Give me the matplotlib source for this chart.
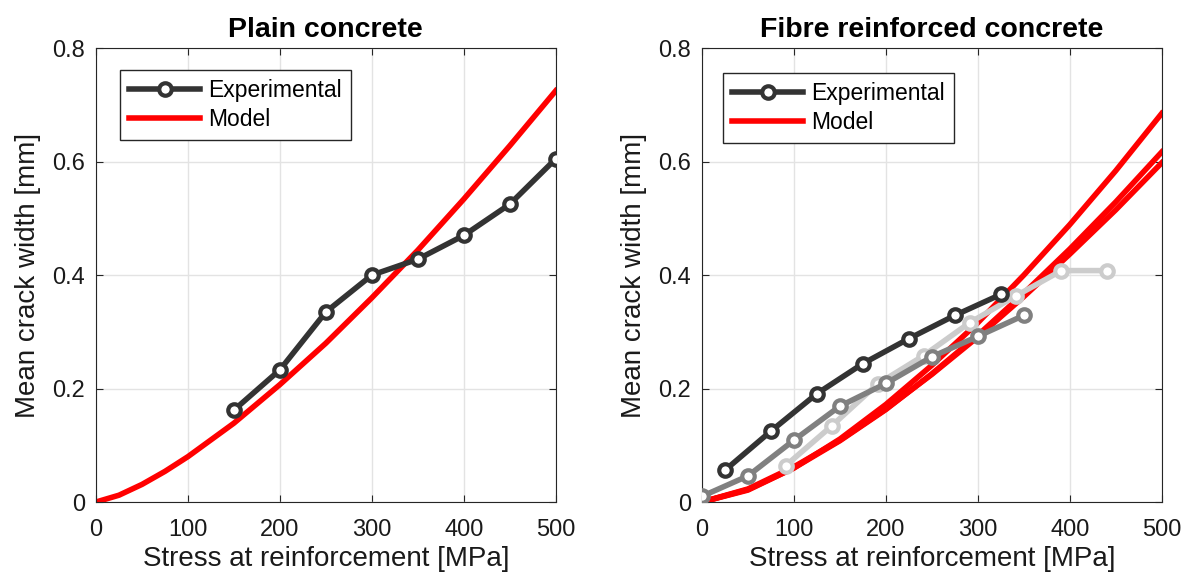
import numpy as np
import matplotlib
import matplotlib.pyplot as plt

# plain concrete
plain_stress = [150, 200, 250, 300, 350, 400, 450, 500]
plain_width = [0.162, 0.233, 0.335, 0.400, 0.428, 0.470, 0.525, 0.605]
plain_model_stress = [0, 25, 50, 75, 100, 150, 200, 250, 300, 350, 400, 450, 500]
plain_model_width = [0.0, 0.012, 0.031, 0.054, 0.080, 0.139, 0.207, 0.280, 0.360, 0.444, 0.534, 0.628, 0.725]

# fibre reinforced concrete, three test series
frc1_stress = [25, 75, 125, 175, 225, 275, 325]
frc1_width = [0.056, 0.125, 0.191, 0.244, 0.288, 0.329, 0.366]
frc2_stress = [0, 50, 100, 150, 200, 250, 300, 350]
frc2_width = [0.010, 0.046, 0.109, 0.169, 0.209, 0.256, 0.292, 0.329]
frc3_stress = [91, 141, 191, 241, 291, 341, 391, 441]
frc3_width = [0.064, 0.134, 0.208, 0.258, 0.316, 0.363, 0.408, 0.408]

model_stress = [0, 50, 100, 150, 200, 250, 300, 350, 400, 450, 500]
model1_width = [0.0, 0.021, 0.060, 0.111, 0.172, 0.241, 0.316, 0.400, 0.489, 0.584, 0.685]
model2_width = [0.0, 0.022, 0.060, 0.108, 0.163, 0.226, 0.294, 0.368, 0.446, 0.529, 0.617]
model3_width = [0.0, 0.023, 0.062, 0.109, 0.164, 0.225, 0.291, 0.362, 0.437, 0.515, 0.598]

matplotlib.rcParams.update({'font.size': 17, 'font.family': ['Liberation Sans', 'DejaVu Sans']})
dark = '#333333'
mid = '#808080'
light = '#cccccc'
red = '#ff0000'
txt = '#1a1a1a'

fig = plt.figure(figsize=(11.91, 5.87), dpi=100)
ax1 = fig.add_axes([0.0806, 0.1448, 0.386, 0.773])
ax2 = fig.add_axes([0.5894, 0.1448, 0.386, 0.773])

mk = dict(marker='o', markersize=9, markerfacecolor='white', markeredgewidth=3)

m1, = ax1.plot(plain_model_stress, plain_model_width, color=red, linewidth=4, label='Model', zorder=2)
e1, = ax1.plot(plain_stress, plain_width, color=dark, linewidth=4, markeredgecolor=dark,
               label='Experimental', zorder=3, **mk)
ax1.set_title('Plain concrete', fontweight='bold', fontsize=20.5, color='black', pad=8)

for w in [model1_width, model2_width, model3_width]:
    ax2.plot(model_stress, w, color=red, linewidth=4, zorder=2)
ax2.plot(frc3_stress, frc3_width, color=light, linewidth=4, markeredgecolor=light, zorder=3, **mk)
ax2.plot(frc2_stress, frc2_width, color=mid, linewidth=4, markeredgecolor=mid, zorder=3, **mk)
e2, = ax2.plot(frc1_stress, frc1_width, color=dark, linewidth=4, markeredgecolor=dark,
               label='Experimental', zorder=4, **mk)
m2, = ax2.plot([], [], color=red, linewidth=4, label='Model')
ax2.set_title('Fibre reinforced concrete', fontweight='bold', fontsize=20.5, color='black', pad=8)

for ax, hs, anchor in [(ax1, [e1, m1], (0.052, 0.952)), (ax2, [e2, m2], (0.046, 0.946))]:
    ax.set_xlim(0, 500)
    ax.set_ylim(0, 0.8)
    ax.set_xticks([0, 100, 200, 300, 400, 500])
    ax.set_yticks([0, 0.2, 0.4, 0.6, 0.8])
    ax.set_yticklabels(['0', '0.2', '0.4', '0.6', '0.8'])
    ax.grid(True, color='#e3e3e3', linewidth=1)
    ax.set_axisbelow(True)
    ax.tick_params(direction='in', top=True, right=True, length=5, color='#262626',
                   labelcolor=txt, labelsize=17)
    ax.tick_params(axis='x', pad=12)
    ax.tick_params(axis='y', pad=8)
    for s in ax.spines.values():
        s.set_color('#262626')
    ax.set_xlabel('Stress at reinforcement [MPa]', fontsize=20, color=txt, labelpad=4)
    ax.set_ylabel('Mean crack width [mm]', fontsize=20, color=txt, labelpad=8)
    leg = ax.legend(handles=hs, loc='upper left', bbox_to_anchor=anchor, borderaxespad=0,
                    fancybox=False, edgecolor='#262626', framealpha=1, fontsize=16.5,
                    handlelength=3.1, handletextpad=0.35, borderpad=0.4, labelspacing=0.25)
    leg.get_frame().set_linewidth(1)
    for t in leg.get_texts():
        t.set_color('black')

fig.savefig('out.png', dpi=100)
